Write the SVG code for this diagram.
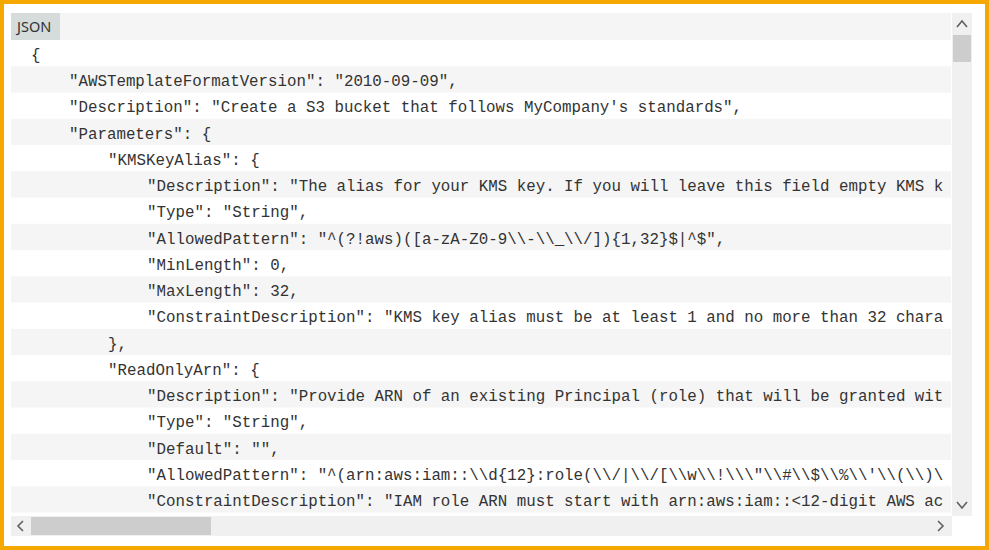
<svg xmlns="http://www.w3.org/2000/svg" width="989" height="550" viewBox="0 0 989 550">
<style>
.c{font-family:"Liberation Mono","DejaVu Sans Mono",monospace;font-size:15.8px;fill:#333;white-space:pre}
.s{fill:#f5f5f5}
.ar{fill:none;stroke:#606060;stroke-width:1.6}
</style>
<defs><clipPath id="cl"><rect x="11" y="13" width="939" height="503"/></clipPath></defs>
<rect x="2" y="2" width="985" height="546" fill="#fff" stroke="#f5a800" stroke-width="4"/>
<g id="stripes">
<rect class="s" x="11" y="13" width="940" height="27"/>
<rect class="s" x="11" y="66.3" width="940" height="26.3"/>
<rect class="s" x="11" y="118.8" width="940" height="26.3"/>
<rect class="s" x="11" y="171.3" width="940" height="26.3"/>
<rect class="s" x="11" y="223.8" width="940" height="26.3"/>
<rect class="s" x="11" y="276.3" width="940" height="26.3"/>
<rect class="s" x="11" y="328.8" width="940" height="26.3"/>
<rect class="s" x="11" y="381.3" width="940" height="26.3"/>
<rect class="s" x="11" y="433.8" width="940" height="26.3"/>
<rect class="s" x="11" y="486.3" width="940" height="26.3"/>
</g>
<g id="label"><rect x="11" y="13" width="49" height="27" fill="#d6dbdb"/>
<text x="17" y="32" font-family="'Noto Sans','Open Sans',sans-serif" font-size="14.5" fill="#333">JSON</text></g>
<g id="code" clip-path="url(#cl)">
<text class="c" x="31" y="60">{</text>
<text class="c" x="69" y="86">"AWSTemplateFormatVersion": "2010-09-09",</text>
<text class="c" x="69" y="112">"Description": "Create a S3 bucket that follows MyCompany's standards",</text>
<text class="c" x="69" y="139">"Parameters": {</text>
<text class="c" x="108" y="165">"KMSKeyAlias": {</text>
<text class="c" x="147" y="191">"Description": "The alias for your KMS key. If you will leave this field empty KMS k</text>
<text class="c" x="147" y="217">"Type": "String",</text>
<text class="c" x="147" y="244">"AllowedPattern": "^(?!aws)([a-zA-Z0-9\\-\\_\\/]){1,32}$|^$",</text>
<text class="c" x="147" y="270">"MinLength": 0,</text>
<text class="c" x="147" y="296">"MaxLength": 32,</text>
<text class="c" x="147" y="322">"ConstraintDescription": "KMS key alias must be at least 1 and no more than 32 chara</text>
<text class="c" x="108" y="349">},</text>
<text class="c" x="108" y="375">"ReadOnlyArn": {</text>
<text class="c" x="147" y="401">"Description": "Provide ARN of an existing Principal (role) that will be granted wit</text>
<text class="c" x="147" y="427">"Type": "String",</text>
<text class="c" x="147" y="454">"Default": "",</text>
<text class="c" x="147" y="480">"AllowedPattern": "^(arn:aws:iam::\\d{12}:role(\\/|\\/[\\w\\!\\\"\\#\\$\\%\\'\\(\\)\</text>
<text class="c" x="147" y="506">"ConstraintDescription": "IAM role ARN must start with arn:aws:iam::&lt;12-digit AWS ac</text>
</g>
<g id="vscroll">
<rect x="952" y="13" width="20" height="503" fill="#f0f0f0"/>
<rect x="953" y="35" width="18" height="27" fill="#cdcdcd"/>
<path class="ar" d="M957 27 L962 21 L967 27"/>
<path class="ar" d="M957 502 L962 508 L967 502"/>
</g>
<g id="hscroll">
<rect x="11" y="516" width="941" height="20" fill="#f0f0f0"/>
<rect x="31" y="517" width="180" height="18" fill="#cdcdcd"/>
<path class="ar" d="M23 521 L18 526 L23 531"/>
<path class="ar" d="M938 521 L943 526 L938 531"/>
</g>
</svg>
